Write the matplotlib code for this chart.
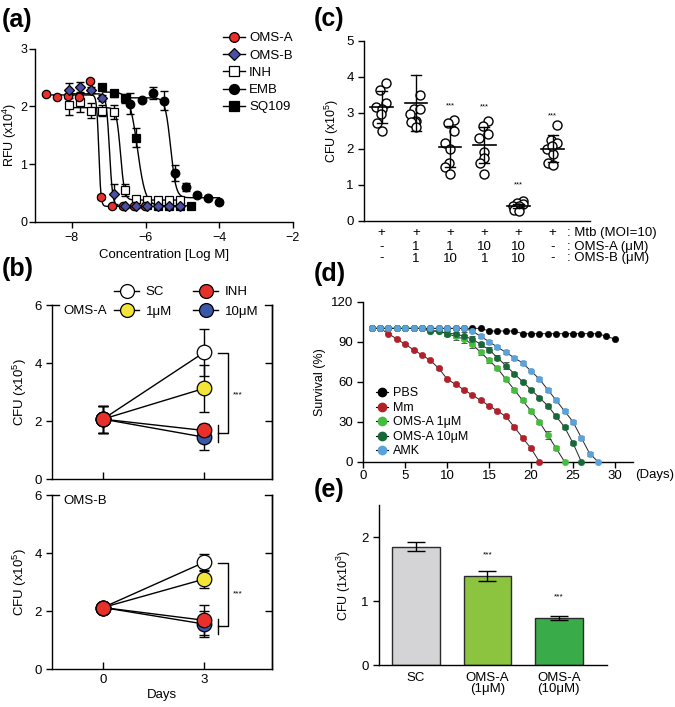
import numpy as np
import matplotlib
matplotlib.use('Agg')
import matplotlib.pyplot as plt
from matplotlib.lines import Line2D

plt.rcParams['font.family'] = ['Liberation Sans', 'DejaVu Sans']
plt.rcParams['font.size'] = 8.5
plt.rcParams['axes.linewidth'] = 1.0
plt.rcParams['mathtext.default'] = 'regular'
plt.rcParams['xtick.major.width'] = 1.0
plt.rcParams['ytick.major.width'] = 1.0

# ---------------- (a) data ----------------
a_names = ['OMS-A', 'OMS-B', 'INH', 'EMB', 'SQ109']
omsA_logc = [-8.71, -8.41, -8.11, -7.81, -7.51, -7.21, -6.91, -6.61, -6.31, -6.01]
omsA_rfu = [2.21, 2.17, 2.18, 2.17, 2.44, 0.43, 0.27, 0.27, 0.27, 0.27]
omsA_err = [0.03, 0.03, 0.03, 0.03, 0.04, 0.03, 0.02, 0.02, 0.02, 0.02]
omsB_logc = [-8.08, -7.78, -7.47, -7.17, -6.87, -6.57, -6.27, -5.96, -5.66, -5.36, -5.06]
omsB_rfu = [2.28, 2.33, 2.28, 2.14, 0.48, 0.27, 0.27, 0.27, 0.27, 0.27, 0.27]
omsB_err = [0.13, 0.10, 0.05, 0.05, 0.17, 0.02, 0.02, 0.02, 0.02, 0.02, 0.02]
inh_logc = [-8.08, -7.78, -7.47, -7.17, -6.87, -6.57, -6.27, -5.96, -5.66, -5.36, -5.06]
inh_rfu = [2.03, 2.08, 1.93, 1.93, 1.90, 0.55, 0.40, 0.38, 0.38, 0.38, 0.38]
inh_err = [0.17, 0.17, 0.13, 0.10, 0.12, 0.10, 0.03, 0.03, 0.03, 0.03, 0.03]
emb_logc = [-6.41, -6.11, -5.81, -5.51, -5.20, -4.90, -4.60, -4.30, -4.00]
emb_rfu = [2.05, 2.12, 2.23, 2.10, 0.85, 0.60, 0.47, 0.42, 0.34]
emb_err = [0.18, 0.03, 0.10, 0.16, 0.14, 0.07, 0.03, 0.03, 0.03]
sq_logc = [-7.17, -6.87, -6.57, -6.27, -5.96, -5.66, -5.36, -5.06, -4.76]
sq_rfu = [2.33, 2.23, 2.14, 1.46, 0.30, 0.28, 0.28, 0.28, 0.27]
sq_err = [0.05, 0.06, 0.08, 0.17, 0.03, 0.02, 0.02, 0.02, 0.02]
# fitted 4-parameter logistic curves
fit_top = [2.20, 2.22, 1.98, 2.15, 2.25]
fit_bottom = [0.27, 0.27, 0.38, 0.42, 0.28]
fit_logec50 = [-7.27, -6.98, -6.68, -5.32, -6.22]
fit_hill = [15, 10, 8, 6, 4]

# ---------------- (b) data ----------------
b_days = [0, 3]
b_groups = ['SC', '1\u03bcM', 'INH', '10\u03bcM']
bA_sc = [2.07, 4.37]; bA_sc_err = [0.46, 0.80]
bA_1 = [2.07, 3.13]; bA_1_err = [0.46, 0.80]
bA_inh = [2.07, 1.68]; bA_inh_err = [0.46, 0.20]
bA_10 = [2.07, 1.45]; bA_10_err = [0.46, 0.45]
bB_sc = [2.12, 3.68]; bB_sc_err = [0.10, 0.30]
bB_1 = [2.12, 3.10]; bB_1_err = [0.10, 0.32]
bB_inh = [2.12, 1.68]; bB_inh_err = [0.10, 0.52]
bB_10 = [2.12, 1.55]; bB_10_err = [0.10, 0.45]

# ---------------- (c) data ----------------
c_mtb = ['+', '+', '+', '+', '+', '+']
c_omsA = ['-', '1', '1', '10', '10', '-']
c_omsB = ['-', '1', '10', '1', '10', '-']
c_points = [
    [3.82, 3.63, 3.27, 3.15, 3.10, 2.97, 2.70, 2.50],
    [3.48, 3.10, 3.10, 2.95, 2.78, 2.75, 2.75, 2.60],
    [2.80, 2.72, 2.50, 2.15, 2.00, 1.60, 1.50, 1.30],
    [2.78, 2.62, 2.42, 2.30, 1.90, 1.75, 1.60, 1.30],
    [0.55, 0.50, 0.45, 0.42, 0.40, 0.35, 0.30, 0.27],
    [2.65, 2.25, 2.15, 2.00, 1.85, 2.08, 1.60, 1.55],
]
c_mean = [3.15, 3.28, 2.06, 2.10, 0.40, 2.00]
c_sd_hi = [3.60, 4.05, 2.63, 2.60, 0.45, 2.37]
c_sd_lo = [2.70, 2.48, 1.48, 1.60, 0.35, 1.63]
c_sig = ['', '', '***', '***', '***', '***']

# ---------------- (d) data ----------------
d_labels = ['PBS', 'Mm', 'OMS-A 1\u03bcM', 'OMS-A 10\u03bcM', 'AMK']
d_days = list(range(1, 31))
pbs_surv = [100]*14 + [98]*4 + [96]*10 + [94, 92]
mm_days = list(range(1, 22))
mm_surv = [100, 100, 96, 92, 88, 84, 80, 76, 70, 62, 58, 54, 50, 46, 42, 38, 34, 26, 18, 10, 0]
mm_err = [0, 0, 0.6, 0.6, 0.8, 0.8, 0.8, 0.8, 1.2, 1.0, 1.0, 1.0, 1.0, 1.0, 1.0, 1.0, 1.2, 1.2, 1.2, 1.0, 0]
g1_days = list(range(1, 25))
g1_surv = [100]*7 + [98, 98, 96, 94, 92, 88, 82, 76, 70, 62, 54, 46, 38, 30, 20, 10, 0]
g1_err = [0]*7 + [1, 1, 2, 3, 3, 3, 2, 2, 1.5, 1.5, 1.5, 1.5, 1.5, 1.5, 3, 1.5, 0]
g10_days = list(range(1, 27))
g10_surv = [100]*7 + [98, 98, 96, 96, 94, 92, 88, 84, 78, 72, 66, 60, 54, 48, 42, 34, 26, 14, 0]
g10_err = [0]*7 + [1, 1, 2, 3, 3, 2, 2, 2, 2, 2.5, 1.5, 1, 1, 1, 1.5, 1.5, 1.5, 1.5, 0]
amk_days = list(range(1, 29))
amk_surv = [100]*12 + [98, 94, 90, 86, 82, 78, 74, 68, 62, 54, 46, 38, 30, 18, 6, 0]
amk_err = [0]*12 + [1, 1.5, 1.5, 1.5, 1.5, 1.5, 1.5, 1, 1.5, 1.5, 1.5, 1.5, 1.5, 1.5, 1.5, 0]

# ---------------- (e) data ----------------
e_labels = ['SC', 'OMS-A\n(1\u03bcM)', 'OMS-A\n(10\u03bcM)']
e_vals = [1.85, 1.39, 0.73]
e_err = [0.07, 0.075, 0.03]
e_sig = ['', '***', '***']

W, H = 675, 707
fig = plt.figure(figsize=(W/100, H/100), dpi=100)

def rect(l, t, r, b):
    return [l/W, 1 - b/H, (r-l)/W, (b-t)/H]

# ================= (a) =================
axa = fig.add_axes(rect(35, 48.7, 293, 222))
a_x = [omsA_logc, omsB_logc, inh_logc, emb_logc, sq_logc]
a_y = [omsA_rfu, omsB_rfu, inh_rfu, emb_rfu, sq_rfu]
a_e = [omsA_err, omsB_err, inh_err, emb_err, sq_err]
a_style = [dict(marker='o', mfc='#e8312a', ms=6),
           dict(marker='D', mfc='#4a4fa3', ms=5.2),
           dict(marker='s', mfc='white', ms=6),
           dict(marker='o', mfc='black', ms=6.2),
           dict(marker='s', mfc='black', ms=6.2)]
for i in range(5):
    xs = np.linspace(min(a_x[i]), max(a_x[i]), 300)
    ys = fit_bottom[i] + (fit_top[i]-fit_bottom[i])/(1+10**((xs-fit_logec50[i])*fit_hill[i]))
    axa.plot(xs, ys, color='black', lw=1.0, zorder=2)
order = [3, 4, 2, 0, 1]
handles_a = [None]*5
for i in order:
    axa.errorbar(a_x[i], a_y[i], yerr=a_e[i], fmt='none', ecolor='black', elinewidth=1, capsize=3, zorder=3)
    st = a_style[i]
    axa.plot(a_x[i], a_y[i], ls='none', marker=st['marker'], mfc=st['mfc'], mec='black', mew=0.9, ms=st['ms'], zorder=4)
    handles_a[i] = Line2D([0], [0], color='black', lw=1, marker=st['marker'], mfc=st['mfc'], mec='black', mew=0.9, ms=st['ms']+1)
axa.set_xlim(-9, -2)
axa.set_ylim(0, 3)
axa.set_xticks([-8, -6, -4, -2])
axa.set_yticks([0, 1, 2, 3])
axa.spines['top'].set_visible(False)
axa.spines['right'].set_visible(False)
axa.tick_params(direction='out', length=4, labelsize=9)
axa.tick_params(axis='y', pad=1.5)
axa.set_xlabel('Concentration [Log M]', fontsize=9.5, labelpad=3)
axa.set_ylabel('RFU (x10$^4$)', fontsize=9, labelpad=1)
fig.legend(handles_a, a_names, loc='upper left', bbox_to_anchor=(0.322, 0.962), frameon=False,
           fontsize=9.5, handlelength=1.7, handletextpad=0.3, labelspacing=0.38, borderaxespad=0)

# ================= (b) =================
b_colors = ['white', '#f2e537', '#e8302a', '#3b57a7']
def panel_b(ax, sc, sce, one, onee, inh, inhe, ten, tene, name, br_top, br_bot, star_y, tick_lo, tick_hi):
    series = [(sc, sce, b_colors[0]), (one, onee, b_colors[1]), (ten, tene, b_colors[3]), (inh, inhe, b_colors[2])]
    for vals, errs, col in series:
        ax.plot(b_days, vals, color='black', lw=1.0, zorder=2)
    for vals, errs, col in series:
        ax.errorbar(b_days, vals, yerr=errs, fmt='none', ecolor='black', elinewidth=1.0, capsize=3.5, zorder=3)
        ax.plot(b_days, vals, ls='none', marker='o', ms=10.5, mfc=col, mec='black', mew=0.9, zorder=4)
    ax.set_xlim(-1.5, 5.0)
    ax.set_ylim(0, 6)
    ax.set_yticks([0, 2, 4, 6])
    ax.set_xticks([0, 3])
    ax.spines['top'].set_visible(False)
    ax.plot([0, 0.03], [1, 1], transform=ax.transAxes, color='black', lw=1.0, clip_on=False)
    ax.plot([0.97, 1.0], [1, 1], transform=ax.transAxes, color='black', lw=1.0, clip_on=False)
    ax.tick_params(axis='y', direction='out', length=4, labelsize=9.5)
    ax.tick_params(axis='x', direction='in', length=5, labelsize=9.5)
    sec = ax.secondary_yaxis('right')
    sec.set_yticks([2, 4])
    sec.tick_params(direction='in', length=5, labelright=False)
    ax.set_ylabel('CFU (x10$^5$)', fontsize=9.5, labelpad=4)
    ax.text(0.05, 0.965, name, transform=ax.transAxes, ha='left', va='center', fontsize=9.5,
            bbox=dict(facecolor='white', edgecolor='none', pad=0.5))
    # significance bracket
    ax.plot([3.42, 3.72, 3.72, 3.42], [br_top, br_top, br_bot, br_bot], color='black', lw=1.0)
    ax.plot([3.42, 3.42], [tick_lo, tick_hi], color='black', lw=1.0)
    ax.text(4.0, star_y, '***', ha='center', va='center', fontsize=6)

axb1 = fig.add_axes(rect(52.3, 305, 271.7, 479.3))
panel_b(axb1, bA_sc, bA_sc_err, bA_1, bA_1_err, bA_inh, bA_inh_err, bA_10, bA_10_err, 'OMS-A', 4.36, 1.58, 2.9, 1.3, 1.87)
axb1.tick_params(axis='x', labelbottom=False)
axb2 = fig.add_axes(rect(52.3, 495, 271.7, 669))
panel_b(axb2, bB_sc, bB_sc_err, bB_1, bB_1_err, bB_inh, bB_inh_err, bB_10, bB_10_err, 'OMS-B', 3.64, 1.48, 2.58, 1.2, 1.72)
axb2.set_xlabel('Days', fontsize=9.5, labelpad=2)
hb = [Line2D([0], [0], color='black', lw=1, marker='o', ms=10, mfc=c, mec='black', mew=0.9) for c in b_colors]
fig.legend([hb[0], hb[1], hb[2], hb[3]], b_groups, ncol=2, loc='center', bbox_to_anchor=(0.276, 0.573),
           frameon=False, fontsize=9.5, handlelength=1.9, handletextpad=0.5, columnspacing=1.6,
           labelspacing=0.55, borderaxespad=0)

# ================= (c) =================
axc = fig.add_axes(rect(364.3, 40.7, 590, 220.7))
c_offsets = [0.12, -0.05, 0.12, -0.16, 0.0, -0.02, -0.14, 0.0]
for g, pts in enumerate(c_points):
    xs = [g + o for o in c_offsets[:len(pts)]]
    axc.plot(xs, pts, ls='none', marker='o', ms=6.5, mfc='white', mec='black', mew=1.0, zorder=3, clip_on=False)
    axc.plot([g-0.33, g+0.33], [c_mean[g]]*2, color='black', lw=1.2, zorder=4)
    axc.plot([g, g], [c_sd_lo[g], c_sd_hi[g]], color='black', lw=1.0, zorder=4)
    axc.plot([g-0.15, g+0.15], [c_sd_hi[g]]*2, color='black', lw=1.0, zorder=4)
    axc.plot([g-0.15, g+0.15], [c_sd_lo[g]]*2, color='black', lw=1.0, zorder=4)
    if c_sig[g]:
        axc.text(g, c_sd_hi[g] + 0.55, c_sig[g], ha='center', va='center', fontsize=5.5)
axc.set_xlim(-0.51, 6.09)
axc.set_ylim(0, 5)
axc.set_xticks([])
axc.set_yticks([0, 1, 2, 3, 4, 5])
axc.spines['top'].set_visible(False)
axc.spines['right'].set_visible(False)
axc.tick_params(direction='out', length=4, labelsize=9.5)
axc.set_ylabel('CFU (x10$^5$)', fontsize=9, labelpad=4)
tr = axc.get_xaxis_transform()
for g in range(6):
    axc.text(g, -0.07, c_mtb[g], transform=tr, ha='center', va='center', fontsize=9.5)
    axc.text(g, -0.145, c_omsA[g], transform=tr, ha='center', va='center', fontsize=9.5)
    axc.text(g, -0.21, c_omsB[g], transform=tr, ha='center', va='center', fontsize=9.5)
axc.text(5.43, -0.07, ': Mtb (MOI=10)', transform=tr, ha='left', va='center', fontsize=9.5)
axc.text(5.43, -0.145, ': OMS-A (\u03bcM)', transform=tr, ha='left', va='center', fontsize=9.5)
axc.text(5.43, -0.21, ': OMS-B (\u03bcM)', transform=tr, ha='left', va='center', fontsize=9.5)

# ================= (d) =================
axd = fig.add_axes(rect(363.3, 301.7, 633.3, 461.7))
d_series = [(d_days, pbs_surv, [0]*len(pbs_surv), 'black'),
            (mm_days, mm_surv, mm_err, '#b3202a'),
            (g1_days, g1_surv, g1_err, '#44bd3c'),
            (g10_days, g10_surv, g10_err, '#17693a'),
            (amk_days, amk_surv, amk_err, '#5aa2da')]
hd = []
for x, y, e, col in d_series:
    axd.errorbar(x, y, yerr=e, fmt='none', ecolor='#555555', elinewidth=0.7, capsize=2, capthick=0.7, zorder=2)
    axd.plot(x, y, color='#222222', lw=0.7, marker='o', ms=4.6, mfc=col, mec=col, mew=0.4, zorder=3, clip_on=False)
    hd.append(Line2D([0], [0], color='black', lw=0.8, marker='o', ms=6, mfc=col, mec=col))
axd.set_xlim(0, 32.2)
axd.set_ylim(0, 120)
axd.set_xticks([0, 5, 10, 15, 20, 25, 30])
axd.set_yticks([0, 30, 60, 90, 120])
axd.spines['top'].set_visible(False)
axd.spines['right'].set_visible(False)
axd.tick_params(direction='out', length=4, labelsize=9.5)
axd.tick_params(axis='x', pad=2)
axd.set_ylabel('Survival (%)', fontsize=9, labelpad=3)
axd.text(32.4, -0.085, '(Days)', transform=axd.get_xaxis_transform(), ha='left', va='center', fontsize=9.5)
axd.legend(hd, d_labels, loc='lower left', bbox_to_anchor=(0.028, -0.005), frameon=False, fontsize=9,
           handlelength=1.0, handletextpad=0.4, labelspacing=0.2, borderaxespad=0)

# ================= (e) =================
axe = fig.add_axes(rect(379.3, 505, 606.7, 665))
e_colors = ['#d4d4d6', '#8cc43f', '#3aab49']
xe = np.arange(len(e_vals))
axe.bar(xe, e_vals, width=0.665, color=e_colors, edgecolor='#2b2b2b', linewidth=1.0, zorder=2)
axe.errorbar(xe, e_vals, yerr=e_err, fmt='none', ecolor='black', elinewidth=1.0, capsize=6.5, capthick=1.0, zorder=3)
for i, s in enumerate(e_sig):
    if s:
        axe.text(xe[i], e_vals[i] + 0.33, s, ha='center', va='center', fontsize=6)
axe.set_xlim(-0.51, 2.67)
axe.set_ylim(0, 2.5)
axe.set_yticks([0, 1, 2])
axe.set_xticks(xe)
axe.set_xticklabels(e_labels, fontsize=9.5, linespacing=0.95)
axe.spines['top'].set_visible(False)
axe.spines['right'].set_visible(False)
axe.tick_params(axis='y', direction='out', length=4, labelsize=9.5)
axe.tick_params(axis='x', length=0, pad=5)
axe.set_ylabel('CFU (1x10$^3$)', fontsize=9, labelpad=6)

# panel labels
for lab, x, y in [('(a)', 2, 20), ('(b)', 2, 269), ('(c)', 314, 19), ('(d)', 314, 274), ('(e)', 314, 490)]:
    fig.text(x/W, 1 - y/H, lab, fontsize=18, fontweight='bold', ha='left', va='center')

fig.savefig('out.png', dpi=100)
